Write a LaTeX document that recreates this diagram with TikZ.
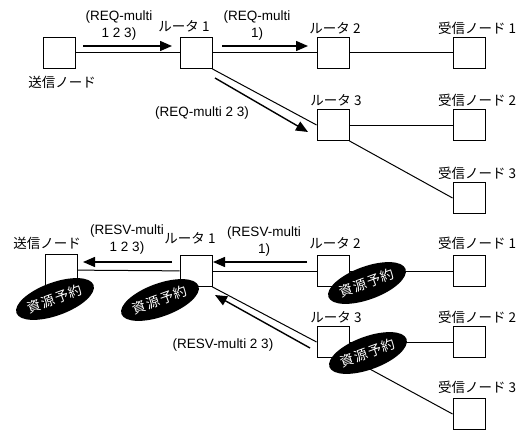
\documentclass[tikz,border=0pt]{standalone}
\usepackage{fontspec}
\setmainfont{Liberation Sans}
\newfontfamily\jp{Noto Sans CJK JP}
\newfontfamily\jpw[LetterSpace=8]{Noto Sans CJK JP}
\usetikzlibrary{arrows.meta,shapes.geometric}
\begin{document}
\begin{tikzpicture}[x=1pt,y=-1pt,
  box/.style={draw,line width=0.9pt,minimum width=32pt,minimum height=31pt,inner sep=0pt},
  lbl/.style={font=\jp\fontsize{13.5}{15}\selectfont,inner sep=0pt},
  msg/.style={font=\fontsize{13.5}{17}\selectfont,align=center,inner sep=0pt},
  link/.style={line width=1pt},
  sig/.style={line width=1.4pt,-{Triangle[length=12pt,width=10pt]}},
  rsv/.style={ellipse,fill=black,minimum width=82pt,minimum height=33pt,inner sep=0pt,rotate=20,text=white,font=\jpw\fontsize{13.5}{15}\selectfont}
]
\useasboundingbox (0,0) rectangle (529,433);

% ---------- top: request ----------
\node[box] (s)  at (59,53) {};
\node[box] (r1) at (196,53) {};
\node[box] (r2) at (333,53) {};
\node[box] (d1) at (469,53) {};
\node[box] (r3) at (333,125) {};
\node[box] (d2) at (469,125) {};
\node[box] (d3) at (469,198) {};

\node[lbl] (ls)  at (62,82)  {送信ノード};
\node[lbl] (lr1) at (184,26) {ルータ 1};
\node[lbl] (lr2) at (335,28) {ルータ 2};
\node[lbl] (ld1) at (477,28) {受信ノード 1};
\node[lbl] (lr3) at (336,100) {ルータ 3};
\node[lbl] (ld2) at (477,100) {受信ノード 2};
\node[lbl] (ld3) at (477,173) {受信ノード 3};

\draw[link] (s) -- (r1);
\draw[link] (r1) -- (r2);
\draw[link] (r2) -- (d1);
\draw[link] (r1.south east) -- (r3.west);
\draw[link] (r3) -- (d2);
\draw[link] (r3.south east) -- (d3.west);

\node[msg] (m1) at (119,26) {(REQ-multi\\1 2 3)};
\node[msg] (m2) at (257,26) {(REQ-multi\\1)};
\node[msg] (m3) at (202,113) {(REQ-multi 2 3)};

\coordinate (a1s) at (83,46);  \coordinate (a1e) at (172,46);
\coordinate (a2s) at (222,46); \coordinate (a2e) at (308,46);
\coordinate (a3s) at (215,78); \coordinate (a3e) at (308,132);
\draw[sig] (a1s) -- (a1e);
\draw[sig] (a2s) -- (a2e);
\draw[sig] (a3s) -- (a3e);

% ---------- bottom: reservation ----------
\node[box] (sb)  at (61,270) {};
\node[box] (r1b) at (196,271) {};
\node[box] (r2b) at (333,271) {};
\node[box] (d1b) at (469,271) {};
\node[box] (r3b) at (333,342) {};
\node[box] (d2b) at (469,342) {};
\node[box] (d3b) at (469,414) {};

\node[lbl] (lsb)  at (47,243)  {送信ノード};
\node[lbl] (lr1b) at (190,238) {ルータ 1};
\node[lbl] (lr2b) at (335,243) {ルータ 2};
\node[lbl] (ld1b) at (477,243) {受信ノード 1};
\node[lbl] (lr3b) at (336,317) {ルータ 3};
\node[lbl] (ld2b) at (477,317) {受信ノード 2};
\node[lbl] (ld3b) at (477,387) {受信ノード 3};

\draw[link] (sb) -- (r1b);
\draw[link] (r1b) -- (r2b);
\draw[link] (r2b) -- (d1b);
\draw[link] (r1b.south east) -- (r3b.west);
\draw[link] (r3b) -- (d2b);
\draw[link] (r3b.south east) -- (d3b.west);

\node[msg] (n1) at (127,240) {(RESV-multi\\1 2 3)};
\node[msg] (n2) at (264,242) {(RESV-multi\\1)};
\node[msg] (n3) at (223,345) {(RESV-multi 2 3)};

\coordinate (b1s) at (172,262); \coordinate (b1e) at (83,262);
\coordinate (b2s) at (307,262); \coordinate (b2e) at (213,262);
\coordinate (b3s) at (310,348); \coordinate (b3e) at (215,295);
\draw[sig] (b1s) -- (b1e);
\draw[sig] (b2s) -- (b2e);
\draw[sig] (b3s) -- (b3e);

\node[rsv] (e1) at (55,299)  {資源予約};
\node[rsv] (e2) at (160,300) {資源予約};
\node[rsv] (e3) at (367,283) {資源予約};
\node[rsv] (e4) at (368,353) {資源予約};
\end{tikzpicture}
\end{document}
